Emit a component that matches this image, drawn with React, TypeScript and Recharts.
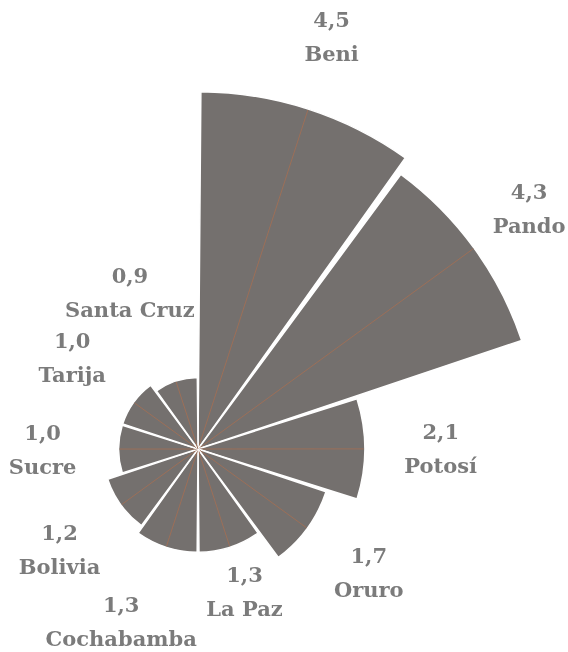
import React from "react";
import { RadialBarChart, RadialBar, PolarAngleAxis, PolarRadiusAxis, Sector } from "recharts";

const regions = ["Beni", "Pando", "Potosí", "Oruro", "La Paz", "Cochabamba", "Bolivia", "Sucre", "Tarija", "Santa Cruz"];
const values = [4.5, 4.3, 2.1, 1.7, 1.3, 1.3, 1.2, 1.0, 1.0, 0.9];

const data = regions.map((name, i) => ({ name, value: values[i] }));

// label layout tweaks (clockwise degrees, extra radius px)
const NUDGE: Record<string, [number, number]> = {
  Pando: [0, -8],
  "La Paz": [0, -29],
  Cochabamba: [6, 10],
  "Santa Cruz": [-5.5, 23],
};

const BAR = "#74706e";
const RAY = "#9c6f58";
const TEXT = "#7b7b7b";
const RAD = Math.PI / 180;

const WedgeShape = (props: any) => {
  const { cx, cy, outerRadius, startAngle, endAngle, payload } = props;
  const mid = (startAngle + endAngle) / 2;
  const lx = cx + (outerRadius - 1) * Math.cos(-mid * RAD);
  const ly = cy + (outerRadius - 1) * Math.sin(-mid * RAD);
  const name = payload?.name ?? props.name;
  const val = payload?.value ?? props.value;
  const [dA, dR] = NUDGE[name] || [0, 0];
  const la = mid - dA;
  const lr = outerRadius + 76 + dR;
  const tx = cx + lr * Math.cos(-la * RAD);
  const ty = cy + lr * Math.sin(-la * RAD);
  const valText = Number(val).toFixed(1).replace(".", ",");
  const textProps = {
    textAnchor: "middle" as const,
    dominantBaseline: "central" as const,
    fill: TEXT,
    fontFamily: "'DejaVu Serif', serif",
    fontWeight: 600,
    fontSize: 21,
  };
  return (
    <g>
      <Sector
        cx={cx}
        cy={cy}
        innerRadius={0}
        outerRadius={outerRadius}
        startAngle={startAngle}
        endAngle={endAngle}
        fill={BAR}
        stroke="#ffffff"
        strokeWidth={1.5}
      />
      <line x1={cx} y1={cy} x2={lx} y2={ly} stroke={RAY} strokeWidth={1} />
      <text x={tx} y={ty - 17} {...textProps}>
        {valText}
      </text>
      <text x={tx} y={ty + 17} {...textProps}>
        {name}
      </text>
    </g>
  );
};

export default function App() {
  return (
    <div style={{ position: "fixed", left: 0, top: 0 }}>
      <RadialBarChart
        width={568}
        height={652}
        data={data}
        layout="centric"
        cx={198}
        cy={449}
        innerRadius={0}
        outerRadius={397}
        startAngle={54}
        endAngle={-306}
        barCategoryGap="1.5%"
        margin={{ top: 0, right: 0, bottom: 0, left: 0 }}
      >
        <PolarAngleAxis type="category" dataKey="name" tick={false} axisLine={false} tickLine={false} />
        <PolarRadiusAxis type="number" domain={[0, 5]} allowDataOverflow tick={false} axisLine={false} tickLine={false} />
        <RadialBar dataKey="value" isAnimationActive={false} shape={WedgeShape} />
      </RadialBarChart>
    </div>
  );
}
